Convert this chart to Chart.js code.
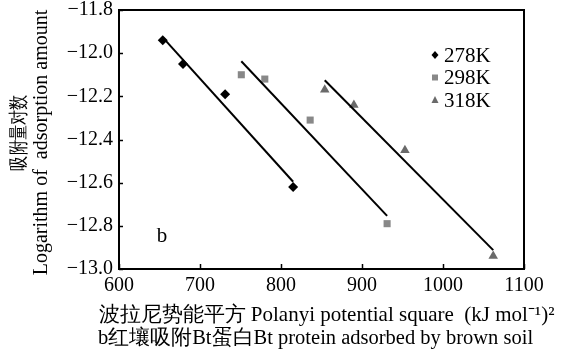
<!DOCTYPE html>
<html>
<head>
<meta charset="utf-8">
<script src="https://cdn.jsdelivr.net/npm/chart.js@4/dist/chart.umd.min.js"></script>
<style>
html,body{margin:0;padding:0;background:#fff;}
#wrap{width:561px;height:353px;}
</style>
</head>
<body>
<div id="wrap"><canvas id="c" width="561" height="353"></canvas></div>
<script>
// ---- data ----
const seriesNames = ['278K', '298K', '318K'];
const x278 = [654, 679, 731, 815];
const y278 = [-11.94, -12.05, -12.19, -12.62];
const x298 = [751, 780, 836, 931];
const y298 = [-12.10, -12.12, -12.31, -12.79];
const x318 = [854, 890, 953, 1062];
const y318 = [-12.17, -12.24, -12.45, -12.94];
const xTicks = [600, 700, 800, 900, 1000, 1100];
const yTicks = [-11.8, -12.0, -12.2, -12.4, -12.6, -12.8, -13.0];
const xTitle = ['波拉尼势能平方 Polanyi potential square  (kJ mol⁻¹)²',
                'b红壤吸附Bt蛋白Bt protein adsorbed by brown soil'];
const yTitle = ['吸附量对数', 'Logarithm of  adsorption amount'];
const panelLabel = 'b';

const FONT = '"Liberation Serif", "Times New Roman", serif';

function pts(xs, ys) { return xs.map((x, i) => ({x: x, y: ys[i]})); }
function fit(xs, ys) {
  const n = xs.length;
  const mx = xs.reduce((a, b) => a + b, 0) / n;
  const my = ys.reduce((a, b) => a + b, 0) / n;
  let sxy = 0, sxx = 0;
  for (let i = 0; i < n; i++) { sxy += (xs[i] - mx) * (ys[i] - my); sxx += (xs[i] - mx) ** 2; }
  const k = sxy / sxx, b = my - k * mx;
  const x0 = Math.min(...xs), x1 = Math.max(...xs);
  return [{x: x0, y: k * x0 + b}, {x: x1, y: k * x1 + b}];
}

const styles = [
  {style: 'rectRot', color: '#000000', r: 5},
  {style: 'rect', color: '#888888', r: 5},
  {style: 'triangle', color: '#6a6a6a', r: 5.5}
];
const xsAll = [x278, x298, x318], ysAll = [y278, y298, y318];

const datasets = [];
for (let i = 0; i < 3; i++) {
  datasets.push({
    type: 'line', label: seriesNames[i] + ' fit', data: fit(xsAll[i], ysAll[i]),
    borderColor: '#000', borderWidth: 2, pointRadius: 0, fill: false, order: 1
  });
}
for (let i = 0; i < 3; i++) {
  datasets.push({
    type: 'scatter', label: seriesNames[i], data: pts(xsAll[i], ysAll[i]),
    pointStyle: styles[i].style, pointRadius: styles[i].r, pointBackgroundColor: styles[i].color,
    pointBorderColor: styles[i].color, pointBorderWidth: 0, order: 2
  });
}

const frame = {
  id: 'frame',
  afterDraw(chart) {
    const ctx = chart.ctx, a = chart.chartArea;
    const xs = chart.scales.x, ys = chart.scales.y;
    ctx.save();
    ctx.strokeStyle = '#000';
    ctx.lineWidth = 1.5;
    // inner ticks
    xTicks.forEach(v => {
      const px = Math.round(xs.getPixelForValue(v)) + 0.5;
      ctx.beginPath(); ctx.moveTo(px, a.bottom); ctx.lineTo(px, a.bottom - 5); ctx.stroke();
    });
    yTicks.forEach(v => {
      const py = Math.round(ys.getPixelForValue(v)) + 0.5;
      ctx.beginPath(); ctx.moveTo(a.left, py); ctx.lineTo(a.left + 4, py); ctx.stroke();
    });
    ctx.lineWidth = 2;
    ctx.strokeRect(a.left, a.top, a.right - a.left, a.bottom - a.top);
    ctx.fillStyle = '#000';
    ctx.textBaseline = 'middle';
    // panel label
    ctx.font = '21px ' + FONT;
    ctx.textAlign = 'center';
    ctx.fillText(panelLabel, a.left + 43, a.bottom - 33);
    // x axis title (two lines)
    const cx = (a.left + a.right) / 2;
    ctx.font = '21px ' + FONT;
    ctx.fillText(xTitle[0], cx + 5, a.bottom + 46);
    ctx.font = '20.5px ' + FONT;
    ctx.fillText(xTitle[1], cx - 6, a.bottom + 70);
    // y axis title (two rotated lines)
    const cy = (a.top + a.bottom) / 2;
    ctx.save();
    ctx.translate(20, cy - 7);
    ctx.rotate(-Math.PI / 2);
    ctx.font = '20px ' + FONT;
    ctx.fillText(yTitle[0], 0, 0, 76);
    ctx.restore();
    ctx.save();
    ctx.translate(42, cy + 3);
    ctx.rotate(-Math.PI / 2);
    ctx.font = '20px ' + FONT;
    ctx.fillText(yTitle[1], 0, 0);
    ctx.restore();
    // legend
    const lx = a.left + 316, ly0 = a.top + 45, dy = 22.5;
    for (let i = 0; i < 3; i++) {
      const y = ly0 + i * dy;
      ctx.fillStyle = styles[i].color;
      ctx.beginPath();
      if (i === 0) {
        ctx.moveTo(lx, y - 4); ctx.lineTo(lx + 3.5, y); ctx.lineTo(lx, y + 4); ctx.lineTo(lx - 3.5, y); ctx.closePath();
      } else if (i === 1) {
        ctx.rect(lx - 3, y - 3, 6, 6);
      } else {
        ctx.moveTo(lx, y - 4); ctx.lineTo(lx + 3.5, y + 3); ctx.lineTo(lx - 3.5, y + 3); ctx.closePath();
      }
      ctx.fill();
      ctx.fillStyle = '#000';
      ctx.textAlign = 'left';
      ctx.font = '21px ' + FONT;
      ctx.fillText(seriesNames[i], lx + 9, y + 1);
    }
    ctx.restore();
  }
};

new Chart(document.getElementById('c'), {
  data: {datasets: datasets},
  options: {
    responsive: false,
    animation: false,
    layout: {padding: {left: 0, right: 37, top: 10, bottom: 0}},
    plugins: {legend: {display: false}, tooltip: {enabled: false}},
    scales: {
      x: {
        type: 'linear', min: 600, max: 1100,
        afterBuildTicks: s => { s.ticks = xTicks.map(v => ({value: v})); },
        afterFit: s => { s.height = 84; s.paddingLeft = 0; s.paddingRight = 0; },
        grid: {display: false, drawTicks: false},
        border: {display: false},
        ticks: {color: '#000', font: {family: FONT, size: 20}, padding: 5, maxRotation: 0,
                callback: v => String(v)},
        title: {display: false}
      },
      y: {
        type: 'linear', min: -13.0, max: -11.8,
        afterBuildTicks: s => { s.ticks = yTicks.map(v => ({value: v})); },
        afterFit: s => { s.width = 119; s.paddingTop = 0; s.paddingBottom = 0; },
        grid: {display: false, drawTicks: false},
        border: {display: false},
        ticks: {color: '#000', font: {family: FONT, size: 20}, padding: 6,
                callback: v => Number(v).toFixed(1).replace('-', '−')},
        title: {display: false}
      }
    }
  },
  plugins: [frame]
});
</script>
</body>
</html>
